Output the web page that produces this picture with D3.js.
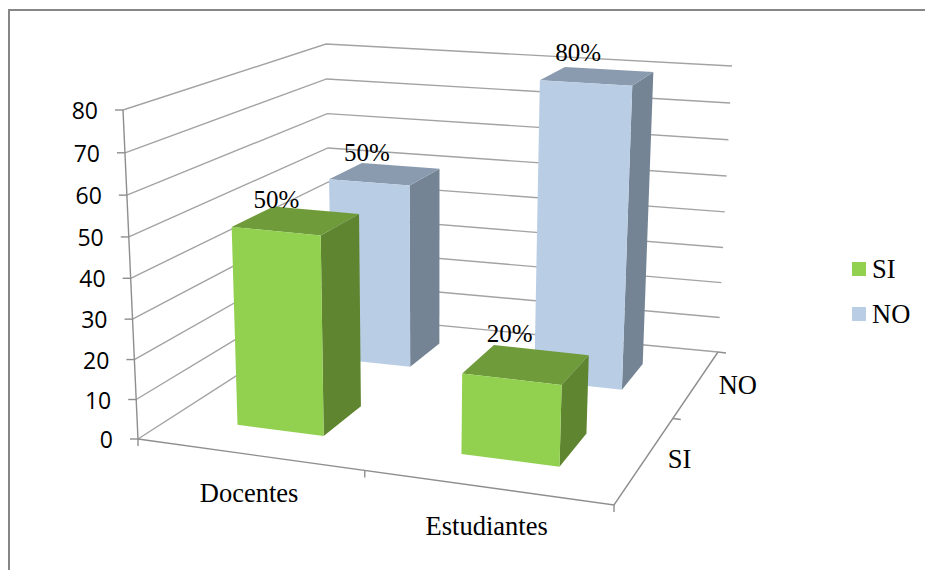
<!DOCTYPE html>
<html>
<head>
<meta charset="utf-8">
<script src="https://cdnjs.cloudflare.com/ajax/libs/d3/7.8.5/d3.min.js"></script>
<style>
  html, body { margin: 0; padding: 0; background: #fff; }
  svg { display: block; }
  .serif { font-family: "Liberation Serif", serif; font-size: 26.5px; fill: #000; }
  .sans { font-family: "Open Sans", sans-serif; font-size: 23px; fill: #000; }
</style>
</head>
<body>
<svg id="chart" width="925" height="570"></svg>
<script>
// Survey answers by group
const categories = ["Docentes", "Estudiantes"];
const seriesNames = ["SI", "NO"];
const siValues = [50, 20];
const noValues = [50, 80];
const valueTicks = [0, 10, 20, 30, 40, 50, 60, 70, 80];

// Face shades
const shades = {
  SI: { front: "#92D050", top: "#6F9B3A", side: "#5F8530" },
  NO: { front: "#B9CDE5", top: "#8A9BB0", side: "#748494" }
};

// Corners of the plot box in perspective: floor A, B, C, D and the ceiling over A, C, D
const floorBox = [[138, 439], [614, 505], [718, 352], [331, 315]];
const ceilingA = [123, 110], ceilingC = [732, 66], ceilingD = [326, 44];
const verticalFalloff = -0.045;

// Floor homography from the unit square
const [[x0, y0], [x1, y1], [x2, y2], [x3, y3]] = floorBox;
const dx1 = x1 - x2, dx2 = x3 - x2, sx = x0 - x1 + x2 - x3;
const dy1 = y1 - y2, dy2 = y3 - y2, sy = y0 - y1 + y2 - y3;
const den = dx1 * dy2 - dx2 * dy1;
const g = (sx * dy2 - dx2 * sy) / den;
const h = (dx1 * sy - sx * dy1) / den;
const floorX = [x1 - x0 + g * x1, x3 - x0 + h * x3, x0];
const floorY = [y1 - y0 + g * y1, y3 - y0 + h * y3, y0];

// Ceiling numerators that share the floor's denominator
const n = verticalFalloff;
function ceilingCoef(i) {
  const c = ceilingA[i] * (1 + n);
  const d = ceilingD[i] * (1 + h + n);
  const e = ceilingC[i] * (1 + g + h + n);
  return [e - d, d - c, c];
}
const ceilX = ceilingCoef(0), ceilY = ceilingCoef(1);

const xBand = d3.scaleBand().domain(categories).range([0.006, 1.006]).paddingInner(0.6).paddingOuter(0.3);
const zBand = d3.scaleBand().domain(seriesNames).range([0, 1]).paddingInner(0.6).paddingOuter(0.3);
const yFrac = d3.scaleLinear().domain([0, 80]).range([0, 1]);

// Category position, depth position and value to page coordinates
function project(u, v, val) {
  const t = yFrac(val);
  const w = g * u + h * v + 1 + n * t;
  const mix = (a, b) => (1 - t) * (a[0] * u + a[1] * v + a[2]) + t * (b[0] * u + b[1] * v + b[2]);
  return [mix(floorX, ceilX) / w, mix(floorY, ceilY) / w];
}

const svg = d3.select("#chart");
const line = d3.line();

// Chart frame
svg.append("rect").attr("x", 9).attr("y", 10).attr("width", 930).attr("height", 580)
  .attr("fill", "#fff").attr("stroke", "#868686").attr("stroke-width", 2);

// Gridlines on the side and back walls
const grid = svg.append("g").attr("fill", "none").attr("stroke", "#A3A3A3").attr("stroke-width", 1.4);
valueTicks.forEach(t => {
  grid.append("path").attr("d", line([project(0, 0, t), project(0, 1, t), project(1, 1, t)]));
});

// Axes
const axis = svg.append("g").attr("fill", "none").attr("stroke", "#8E8E8E").attr("stroke-width", 1.4);
axis.append("path").attr("d", line([project(0, 0, 0), project(0, 0, 80)]));
axis.append("path").attr("d", line([project(0, 0, 0), project(1, 0, 0), project(1, 1, 0)]));
valueTicks.forEach(t => {
  const [x, y] = project(0, 0, t);
  axis.append("path").attr("d", line([[x - 8, y], [x, y]]));
  svg.append("text").attr("class", "sans").attr("x", x - 25).attr("y", y + 1)
    .attr("dy", "0.35em").attr("text-anchor", "end").text(t);
});
[0, 0.51, 1].forEach(u => {
  const [x, y] = project(u, 0, 0);
  axis.append("path").attr("d", line([[x, y], [x, y + 7]]));
});
[0.5, 1].forEach(v => {
  const [x, y] = project(1, v, 0);
  axis.append("path").attr("d", line([[x, y], [x + 8, y + 1]]));
});

// Category and depth labels
categories.forEach(c => {
  const [x, y] = project(xBand(c) + xBand.bandwidth() / 2, 0, 0);
  svg.append("text").attr("class", "serif").attr("x", x + 1).attr("y", y + 48)
    .attr("text-anchor", "middle").text(c);
});
seriesNames.forEach((s, i) => {
  const [x, y] = project(1, zBand(s) + zBand.bandwidth() / 2, 0);
  svg.append("text").attr("class", "serif").attr("x", x + 34 + 7 * i).attr("y", y + 9 + 2 * i)
    .attr("text-anchor", "middle").text(s);
});

// Bars, drawn back to front
const bars = [];
[["NO", noValues], ["SI", siValues]].forEach(([s, vals]) => {
  vals.forEach((v, i) => bars.push({ series: s, cat: categories[i], value: v }));
});

bars.forEach(b => {
  const u0 = xBand(b.cat), u1 = u0 + xBand.bandwidth();
  const v0 = zBand(b.series), v1 = v0 + zBand.bandwidth();
  const c = shades[b.series];
  const bar = svg.append("g");
  const face = (pts, fill) => bar.append("path").attr("d", line(pts) + "Z").attr("fill", fill);
  face([project(u1, v0, 0), project(u1, v1, 0), project(u1, v1, b.value), project(u1, v0, b.value)], c.side);
  face([project(u0, v0, b.value), project(u1, v0, b.value), project(u1, v1, b.value), project(u0, v1, b.value)], c.top);
  face([project(u0, v0, 0), project(u1, v0, 0), project(u1, v0, b.value), project(u0, v0, b.value)], c.front);
});

// Value labels sit over the back of each bar's top, each with its own small nudge
const labelNudges = [[-1.5, -1], [1.5, -4], [-7.5, 2], [1, -4]];
bars.forEach((b, i) => {
  const u = xBand(b.cat) + xBand.bandwidth() / 2;
  const v = zBand(b.series) + zBand.bandwidth();
  const [x, y] = project(u, v, b.value);
  svg.append("text").attr("class", "serif").style("font-size", "25px")
    .attr("x", x - 32 + labelNudges[i][0]).attr("y", y - 4 + labelNudges[i][1])
    .attr("text-anchor", "middle").text(b.value + "%");
});

// Legend
seriesNames.forEach((s, i) => {
  const y = 262 + i * 45;
  svg.append("rect").attr("x", 852).attr("y", y).attr("width", 14).attr("height", 14).attr("fill", shades[s].front);
  svg.append("text").attr("class", "serif").attr("x", 872).attr("y", y + 15.5).text(s);
});
</script>
</body>
</html>
